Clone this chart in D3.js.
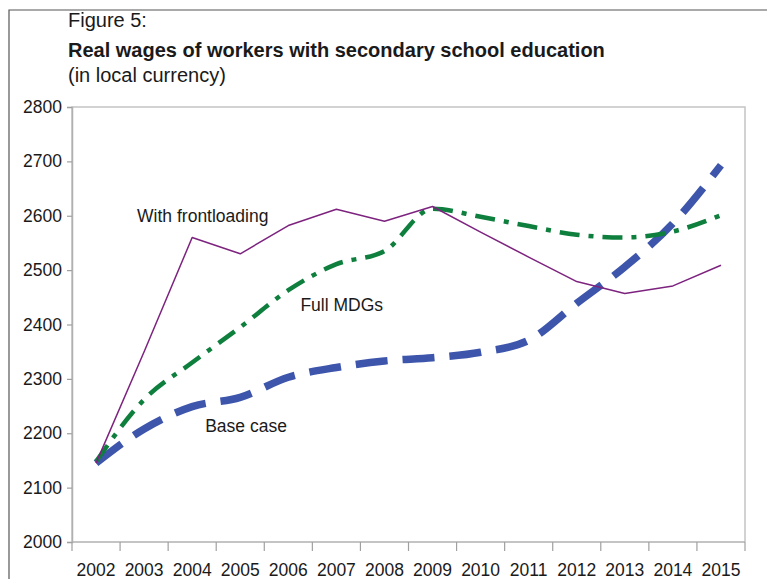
<!DOCTYPE html>
<html>
<head>
<meta charset="utf-8">
<script src="https://cdn.jsdelivr.net/npm/d3@7"></script>
<style>
  body { margin: 0; background: #fff; }
  text { font-family: "Liberation Sans", Arial, sans-serif; fill: #1a1a1a; }
</style>
</head>
<body>
<script>
// données
const years = ["2002", "2003", "2004", "2005", "2006", "2007", "2008", "2009", "2010", "2011", "2012", "2013", "2014", "2015"]
const frontloading = [2145, 2350, 2560, 2530, 2582, 2612, 2590, 2617, 2570, 2524, 2479, 2457, 2471, 2509]
const fullMDGs = [2148, 2262, 2330, 2395, 2463, 2511, 2535, 2613, 2598, 2581, 2565, 2560, 2571, 2601]
const baseCase = [2145, 2208, 2249, 2266, 2303, 2321, 2333, 2339, 2349, 2371, 2439, 2506, 2586, 2693]
const yTicks = [2000, 2100, 2200, 2300, 2400, 2500, 2600, 2700, 2800]

const W = 767, H = 579
let margin = { top: 107, right: 22, bottom: 37, left: 72 }
let width = W - margin.left - margin.right,
    height = H - margin.top - margin.bottom

let svg = d3.select("body").append("svg")
    .attr("width", W)
    .attr("height", H)

// cadre de la figure
svg.append("path")
    .attr("d", `M9,${H} L9,10 L${W},10`)
    .attr("fill", "none")
    .attr("stroke", "#555")
    .attr("stroke-width", 1.2)

// titres
svg.append("text").text("Figure 5:")
    .attr("x", 68).attr("y", 27)
    .style("font-size", "20px")
svg.append("text").text("Real wages of workers with secondary school education")
    .attr("x", 68).attr("y", 57)
    .style("font-size", "20px").style("font-weight", "bold")
svg.append("text").text("(in local currency)")
    .attr("x", 68).attr("y", 82)
    .style("font-size", "20px")

let g = svg.append("g")
    .attr("transform", "translate(" + margin.left + "," + margin.top + ")")

// échelles
let x = d3.scaleBand().domain(years).range([0, width])
let y = d3.scaleLinear().domain([2000, 2800]).range([height, 0])
const cx = d => x(d) + x.bandwidth() / 2

// bordure du graphique
g.append("path")
    .attr("d", `M0,${height} L0,0 L${width},0 L${width},${height}`)
    .attr("fill", "none")
    .attr("stroke", "#c4c4c4")
    .attr("stroke-width", 1.5)

// axe Y
let axY = g.append("g").call(d3.axisLeft(y).tickValues(yTicks).tickFormat(d3.format("d")).tickSize(5).tickPadding(5))
axY.select(".domain").attr("stroke", "#b0b0b0").attr("stroke-width", 1.5)
axY.selectAll(".tick line").attr("stroke", "#a0a0a0").attr("stroke-width", 1.2)
axY.selectAll("text").style("font-size", "17.5px").attr("fill", "#1a1a1a")
    .style("font-family", "Liberation Sans, Arial, sans-serif")

// axe X (graduations entre les catégories)
let axX = g.append("g").attr("transform", "translate(0," + height + ")")
axX.append("line").attr("x1", 0).attr("x2", width)
    .attr("stroke", "#b0b0b0").attr("stroke-width", 1.5)
axX.selectAll(".tk").data(years.concat(["end"])).enter().append("line")
    .attr("x1", (d, i) => i * x.step()).attr("x2", (d, i) => i * x.step())
    .attr("y1", 0).attr("y2", 9)
    .attr("stroke", "#a0a0a0").attr("stroke-width", 1.2)
axX.selectAll(".lbl").data(years).enter().append("text")
    .text(d => d)
    .attr("x", d => cx(d))
    .attr("y", 34)
    .attr("text-anchor", "middle")
    .style("font-size", "17.5px")

// séries
const series = [
    { name: "Base case", values: baseCase, color: "#3d55ab", w: 7.5, dash: "32,15", curve: d3.curveMonotoneX },
    { name: "Full MDGs", values: fullMDGs, color: "#0f7f3e", w: 4.5, dash: "20,9,5,9", curve: d3.curveMonotoneX },
    { name: "With frontloading", values: frontloading, color: "#7d237f", w: 1.5, dash: null, curve: d3.curveLinear }
]

series.forEach(s => {
    let line = d3.line()
        .x((d, i) => cx(years[i]))
        .y(d => y(d))
        .curve(s.curve)
    g.append("path")
        .datum(s.values)
        .attr("d", line)
        .attr("fill", "none")
        .attr("stroke", s.color)
        .attr("stroke-width", s.w)
        .attr("stroke-dasharray", s.dash)
        .attr("stroke-linejoin", "round")
})

// étiquettes des courbes
g.append("text").text("With frontloading")
    .attr("x", cx("2003") - 7).attr("y", y(2588))
    .style("font-size", "17.5px")
g.append("text").text("Full MDGs")
    .attr("x", cx("2007") - 36).attr("y", y(2424))
    .style("font-size", "17.5px")
g.append("text").text("Base case")
    .attr("x", cx("2004") + 13).attr("y", y(2203))
    .style("font-size", "17.5px")
</script>
</body>
</html>
